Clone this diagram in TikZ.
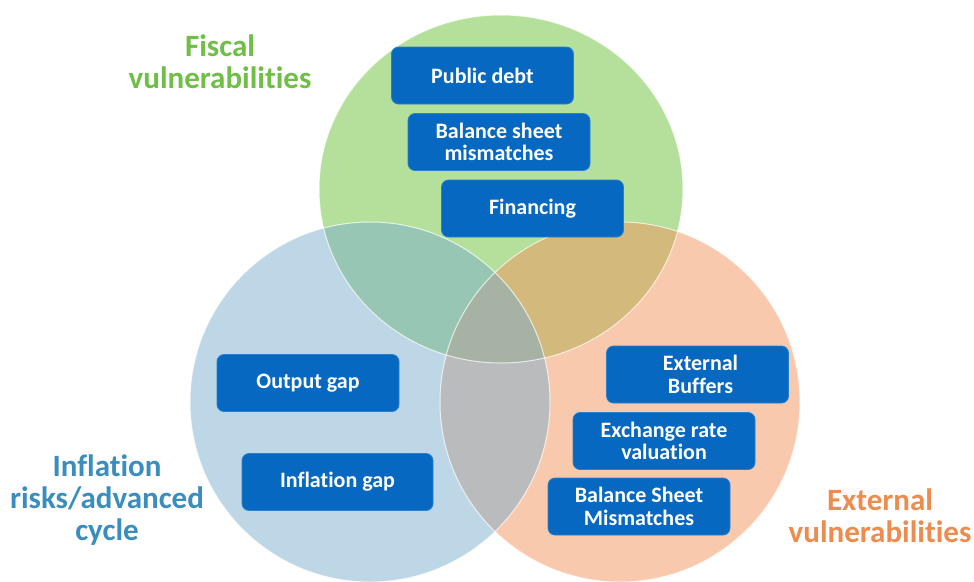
\documentclass[tikz,border=0pt]{standalone}
\usepackage{fontspec}
\setmainfont{Carlito}[Ligatures=NoCommon]
\usepackage{tikz}
\usetikzlibrary{calc,backgrounds}
\definecolor{fiscalgreen}{RGB}{107,193,55}
\definecolor{inflblue}{RGB}{123,175,205}
\definecolor{extorange}{RGB}{243,147,93}
\definecolor{boxblue}{RGB}{6,104,192}
\definecolor{boxedge}{RGB}{40,128,205}
\definecolor{fiscaltext}{RGB}{112,190,72}
\definecolor{infltext}{RGB}{58,141,191}
\definecolor{exttext}{RGB}{238,139,78}

\begin{document}
\begin{tikzpicture}[x=1pt,y=-1pt,
  itembox/.style={draw=boxedge, line width=0.8pt, fill=boxblue, rounded corners=7pt,
    minimum width=182pt, minimum height=57pt, inner sep=2pt, align=center, text=white,
    font=\fontsize{22}{22.5}\selectfont\bfseries},
  heading/.style={align=center, font=\fontsize{31}{32}\selectfont\bfseries}]
  \useasboundingbox (0,0) rectangle (974,581);
  \fill[fiscalgreen, fill opacity=0.5] (501,189) ellipse[x radius=182pt, y radius=174pt];
  \fill[extorange, fill opacity=0.5] (620,402) circle[radius=180pt];
  \fill[inflblue, fill opacity=0.5] (370,402) circle[radius=180pt];
  \draw[white, line width=1pt, draw opacity=0.7] (501,189) ellipse[x radius=182pt, y radius=174pt];
  \draw[white, line width=1pt, draw opacity=0.7] (620,402) circle[radius=180pt];
  \draw[white, line width=1pt, draw opacity=0.7] (370,402) circle[radius=180pt];

  \node[itembox] (debt) at (482.5,75.5) {Public debt};
  \node[itembox] (bsheet) at (499,142) {Balance sheet\\mismatches};
  \node[itembox] (financing) at (532.5,208.5) {Financing};
  \node[itembox] (outgap) at (308,383) {Output gap};
  \node[itembox, minimum width=191pt] (inflgap) at (337.5,482) {Inflation gap};
  \node[itembox] (buffers) at (697.5,374.5) {\hspace*{6pt}External\\\hspace*{6pt}Buffers};
  \node[itembox] (exrate) at (664,441) {Exchange rate\\valuation};
  \node[itembox] (bsmis) at (639,506.5) {Balance Sheet\\Mismatches};

  \node[heading, text=fiscaltext] (fiscal) at (220,62) {Fiscal\\vulnerabilities};
  \node[heading, text=infltext] (inflation) at (107,500) {Inflation\\risks/advanced\\cycle};
  \node[heading, text=exttext] (external) at (880,516) {External\\vulnerabilities};
\end{tikzpicture}
\end{document}
